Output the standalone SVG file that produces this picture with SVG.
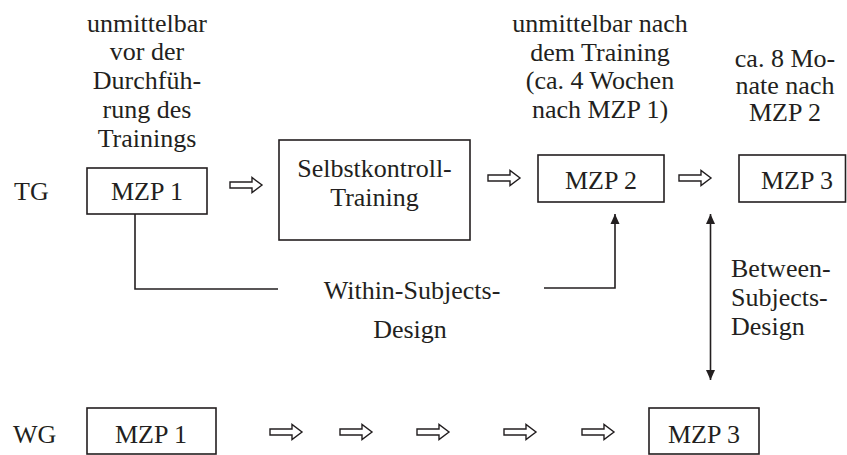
<svg xmlns="http://www.w3.org/2000/svg" width="847" height="455" viewBox="0 0 847 455">
  <defs>
    <style>
      text { font-family: "Times New Roman", "Liberation Serif", Tinos, serif; font-size: 26px; fill: #231f20; font-weight: normal; font-style: normal; }
      .mid { text-anchor: middle; }
      .box { fill: #ffffff; stroke: #231f20; stroke-width: 1.6; }
      .line { fill: none; stroke: #231f20; stroke-width: 1.6; }
      .flow { fill: #ffffff; stroke: #231f20; stroke-width: 1.4; stroke-linejoin: miter; }
    </style>
    <!-- hollow block arrow, 32 px long, tip at x=32 -->
    <path id="flow-arrow" class="flow" d="M0,-3 H22 V-7.5 L32,0 L22,7.5 V3 H0 Z"/>
    <marker id="head" viewBox="0 0 10 10" refX="10" refY="5" markerWidth="10" markerHeight="10" markerUnits="userSpaceOnUse" orient="auto-start-reverse">
      <path d="M0,0.5 L10,5 L0,9.5 Z" fill="#231f20"/>
    </marker>
  </defs>

  <rect width="847" height="455" fill="#ffffff"/>

  <!-- column headings -->
  <g id="label-mzp1" class="mid">
    <text x="147" y="32">unmittelbar</text>
    <text x="147" y="60">vor der</text>
    <text x="147" y="89">Durchfüh-</text>
    <text x="147" y="118">rung des</text>
    <text x="147" y="147">Trainings</text>
  </g>
  <g id="label-mzp2" class="mid">
    <text x="600" y="32">unmittelbar nach</text>
    <text x="600" y="61">dem Training</text>
    <text x="600" y="89">(ca. 4 Wochen</text>
    <text x="600" y="118">nach MZP 1)</text>
  </g>
  <g id="label-mzp3" class="mid">
    <text x="785" y="67">ca. 8 Mo-</text>
    <text x="785" y="94">nate nach</text>
    <text x="785" y="121">MZP 2</text>
  </g>

  <!-- group labels -->
  <g id="tg"><text x="14" y="200">TG</text></g>
  <g id="wg"><text x="13" y="443">WG</text></g>

  <!-- training group -->
  <g id="tg-mzp1">
    <rect class="box" x="87" y="168" width="120" height="46"/>
    <text class="mid" x="147" y="200">MZP 1</text>
  </g>
  <g id="tg-training">
    <rect class="box" x="279" y="140" width="191" height="100"/>
    <text class="mid" x="374.5" y="177">Selbstkontroll-</text>
    <text class="mid" x="374.5" y="206">Training</text>
  </g>
  <g id="tg-mzp2">
    <rect class="box" x="538" y="155" width="126" height="47"/>
    <text class="mid" x="601" y="189">MZP 2</text>
  </g>
  <g id="tg-mzp3">
    <rect class="box" x="739" y="155" width="106.5" height="47"/>
    <text class="mid" x="797" y="189">MZP 3</text>
  </g>

  <!-- waiting group -->
  <g id="wg-mzp1">
    <rect class="box" x="87" y="408" width="129" height="46"/>
    <text class="mid" x="151" y="443">MZP 1</text>
  </g>
  <g id="wg-mzp3">
    <rect class="box" x="649" y="408" width="110" height="46"/>
    <text class="mid" x="704" y="443">MZP 3</text>
  </g>

  <!-- design labels -->
  <g id="within-label" class="mid">
    <text x="412" y="299">Within-Subjects-</text>
    <text x="410" y="338">Design</text>
  </g>
  <g id="between-label">
    <text x="731" y="277">Between-</text>
    <text x="731" y="306">Subjects-</text>
    <text x="731" y="335">Design</text>
  </g>

  <!-- connectors -->
  <g id="connectors">
    <use href="#flow-arrow" x="230" y="185"/>
    <use href="#flow-arrow" x="488" y="178"/>
    <use href="#flow-arrow" x="679" y="178"/>

    <use href="#flow-arrow" x="270" y="432"/>
    <use href="#flow-arrow" x="340" y="432"/>
    <use href="#flow-arrow" x="417" y="432"/>
    <use href="#flow-arrow" x="504" y="432"/>
    <use href="#flow-arrow" x="582" y="432"/>

    <polyline class="line" points="135,214 135,289 278,289"/>
    <polyline class="line" points="544,288 615,288 615,214" marker-end="url(#head)"/>
    <line class="line" x1="710.5" y1="214" x2="710.5" y2="380" marker-start="url(#head)" marker-end="url(#head)"/>
  </g>
</svg>
